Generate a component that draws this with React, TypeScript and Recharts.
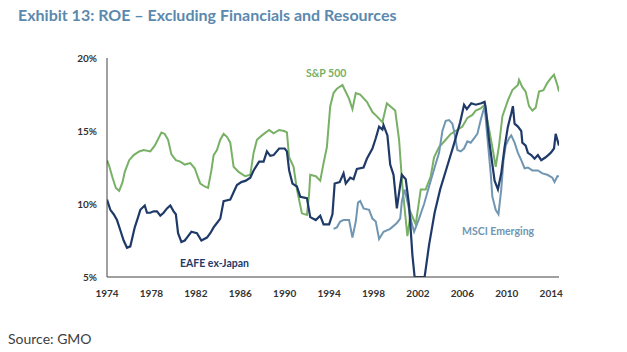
import { LineChart, Line, XAxis, YAxis } from "recharts";

// ROE, % — [year, value]
const SP500: [number, number][] = [
  [1974.0, 13.0], [1974.2, 12.6], [1974.5, 11.8], [1974.8, 11.1], [1975.1, 10.9], [1975.4, 11.5],
  [1975.6, 12.2], [1976.0, 13.0], [1976.4, 13.35], [1976.9, 13.6], [1977.3, 13.7], [1977.9, 13.6],
  [1978.3, 14.0], [1978.9, 14.9], [1979.2, 14.8], [1979.5, 14.4], [1979.8, 13.4], [1980.2, 13.0],
  [1980.6, 12.9], [1981.0, 12.7], [1981.5, 12.8], [1981.9, 12.45], [1982.2, 11.8], [1982.4, 11.4],
  [1982.8, 11.2], [1983.1, 11.1], [1983.4, 12.3], [1983.6, 13.35], [1983.9, 13.7], [1984.2, 14.4],
  [1984.5, 14.8], [1984.8, 14.6], [1985.1, 14.2], [1985.4, 12.55], [1985.85, 12.2], [1986.45, 11.9],
  [1986.9, 12.0], [1987.2, 13.5], [1987.5, 14.4], [1987.95, 14.7], [1988.6, 15.07], [1989.0, 14.84],
  [1989.5, 15.07], [1989.95, 15.0], [1990.2, 14.9], [1990.4, 13.2], [1990.8, 12.55], [1991.1, 11.0],
  [1991.55, 9.36], [1992.0, 9.25], [1992.2, 10.7], [1992.3, 12.0], [1992.8, 11.9], [1993.2, 11.6],
  [1993.5, 12.8], [1993.8, 13.9], [1994.1, 16.7], [1994.4, 17.6], [1994.7, 17.9], [1995.2, 18.15],
  [1995.8, 17.2], [1996.1, 16.5], [1996.4, 17.6], [1996.8, 17.5], [1997.4, 17.0], [1997.9, 16.3],
  [1998.3, 16.0], [1998.8, 15.6], [1999.2, 16.9], [1999.5, 16.7], [1999.95, 16.4], [2000.3, 14.4],
  [2000.6, 11.2], [2001.05, 7.8], [2001.35, 9.4], [2001.8, 8.6], [2002.25, 11.0], [2002.7, 11.0],
  [2003.15, 11.9], [2003.45, 13.2], [2003.9, 13.9], [2004.5, 14.4], [2004.95, 14.8], [2005.55, 15.07],
  [2006.0, 15.3], [2006.45, 15.9], [2006.9, 16.1], [2007.2, 16.4], [2007.65, 16.55], [2008.0, 16.8],
  [2008.25, 15.75], [2008.7, 13.9], [2009.0, 12.55], [2009.3, 14.0], [2009.6, 16.0], [2010.1, 17.1],
  [2010.5, 17.8], [2011.0, 18.15], [2011.1, 18.5], [2011.4, 18.0], [2011.7, 17.7], [2012.0, 16.7],
  [2012.3, 16.4], [2012.6, 16.6], [2012.9, 17.7], [2013.3, 17.8], [2013.65, 18.3], [2013.95, 18.6],
  [2014.25, 18.85], [2014.4, 18.5], [2014.55, 18.15], [2014.7, 17.7],
];

const EAFE_EX_JAPAN: [number, number][] = [
  [1974.0, 10.3], [1974.3, 9.6], [1974.6, 9.3], [1974.9, 8.9], [1975.2, 8.2], [1975.5, 7.5],
  [1975.8, 7.0], [1976.1, 7.1], [1976.5, 8.4], [1976.8, 9.1], [1977.0, 9.6], [1977.4, 9.9],
  [1977.6, 9.4], [1977.9, 9.4], [1978.2, 9.5], [1978.5, 9.5], [1978.8, 9.2], [1979.1, 9.4],
  [1979.4, 9.7], [1979.7, 9.9], [1980.0, 9.5], [1980.2, 9.3], [1980.4, 8.0], [1980.7, 7.4],
  [1981.0, 7.5], [1981.2, 7.7], [1981.6, 8.1], [1982.1, 8.0], [1982.5, 7.5], [1983.0, 7.7],
  [1983.3, 8.0], [1983.6, 8.4], [1983.9, 8.7], [1984.2, 9.0], [1984.5, 10.2], [1985.1, 10.3],
  [1985.4, 10.8], [1985.7, 11.3], [1986.1, 11.5], [1986.5, 11.6], [1986.9, 11.8], [1987.2, 12.3],
  [1987.7, 12.9], [1988.1, 12.9], [1988.4, 13.6], [1988.7, 13.3], [1989.0, 13.35], [1989.5, 13.8],
  [1990.0, 13.8], [1990.2, 13.6], [1990.4, 12.3], [1990.7, 11.4], [1991.1, 11.2], [1991.4, 10.5],
  [1992.0, 10.4], [1992.3, 9.1], [1992.8, 8.9], [1993.2, 9.2], [1993.5, 8.6], [1994.0, 8.6],
  [1994.3, 9.3], [1994.5, 11.4], [1994.95, 11.5], [1995.3, 12.1], [1995.5, 11.4], [1995.9, 11.8],
  [1996.2, 11.7], [1996.5, 12.4], [1997.1, 12.5], [1997.4, 13.1], [1997.9, 13.8], [1998.2, 14.5],
  [1998.5, 15.3], [1998.8, 15.1], [1998.9, 15.4], [1999.25, 14.7], [1999.5, 12.7], [1999.8, 12.0],
  [2000.1, 9.7], [2000.4, 11.3], [2000.55, 12.0], [2000.9, 11.7], [2001.2, 9.9], [2001.5, 6.5],
  [2001.7, 5.0], [2002.6, 5.0], [2003.0, 7.2], [2003.5, 9.4], [2004.0, 11.0], [2004.6, 12.5],
  [2005.2, 14.0], [2005.8, 15.6], [2006.15, 16.8], [2006.4, 16.5], [2006.8, 16.9], [2007.2, 16.8],
  [2007.7, 16.9], [2008.0, 17.0], [2008.1, 16.6], [2008.4, 14.4], [2008.9, 11.6], [2009.2, 11.0],
  [2009.5, 12.1], [2009.8, 13.9], [2010.1, 15.3], [2010.4, 16.2], [2010.55, 16.7], [2010.7, 15.5],
  [2011.0, 15.3], [2011.3, 15.0], [2011.4, 14.2], [2011.7, 14.0], [2011.9, 13.5], [2012.2, 13.35],
  [2012.5, 13.1], [2012.8, 13.35], [2013.1, 13.0], [2013.5, 13.2], [2013.95, 13.5], [2014.25, 13.8],
  [2014.4, 14.8], [2014.55, 14.4], [2014.7, 14.0],
];

const MSCI_EMERGING: [number, number][] = [
  [1994.4, 8.3], [1994.7, 8.4], [1995.0, 8.8], [1995.3, 8.9], [1995.8, 8.9], [1996.1, 7.7],
  [1996.4, 8.8], [1996.6, 10.1], [1996.8, 10.2], [1997.1, 9.7], [1997.6, 9.6], [1997.9, 9.0],
  [1998.2, 8.8], [1998.5, 7.6], [1998.9, 8.1], [1999.5, 8.3], [2000.1, 8.7], [2000.4, 9.0],
  [2000.55, 10.2], [2000.8, 11.0], [2001.1, 10.0], [2001.4, 8.8], [2001.65, 8.1], [2002.1, 9.0],
  [2002.55, 10.0], [2003.0, 11.2], [2003.5, 12.5], [2003.9, 13.5], [2004.2, 15.0], [2004.5, 15.7],
  [2004.8, 15.75], [2005.1, 15.5], [2005.25, 15.0], [2005.55, 13.7], [2005.85, 13.6], [2006.15, 13.8],
  [2006.45, 14.3], [2006.75, 14.2], [2007.05, 14.5], [2007.35, 14.8], [2007.65, 15.75], [2008.0, 16.7],
  [2008.25, 14.6], [2008.55, 12.1], [2008.7, 10.5], [2009.0, 9.6], [2009.25, 9.3], [2009.5, 11.0],
  [2009.7, 13.0], [2009.9, 14.0], [2010.2, 14.5], [2010.4, 14.7], [2010.7, 14.2], [2011.0, 13.5],
  [2011.3, 13.0], [2011.6, 12.45], [2011.9, 12.5], [2012.3, 12.3], [2012.8, 12.3], [2013.2, 12.1],
  [2013.65, 12.0], [2014.1, 11.8], [2014.3, 11.5], [2014.55, 11.9], [2014.7, 11.9],
];

const YEAR_TICKS = [1974, 1978, 1982, 1986, 1990, 1994, 1998, 2002, 2006, 2010, 2014];
const PCT_TICKS = [5, 10, 15, 20];

const GREEN = "#78b065";
const NAVY = "#1f3a68";
const STEEL = "#7096b2";
const FONT = "Lato, 'Open Sans', sans-serif";

const toRows = (pts: [number, number][]) => pts.map(([year, v]) => ({ year, v }));

const tickStyle = { fontSize: 10, fill: "#333", fontWeight: 700, fontFamily: FONT };

export default function App() {
  return (
    <div style={{ position: "absolute", left: 0, top: 0, width: 627, height: 352, background: "#fff", fontFamily: FONT }}>
      <div style={{ position: "absolute", left: 18, top: 5, fontSize: 16, fontWeight: 700, color: "#5b89ae", whiteSpace: "nowrap" }}>
        Exhibit 13: ROE – Excluding Financials and Resources
      </div>

      <LineChart width={627} height={352} margin={{ top: 58, right: 68, bottom: 45, left: 0 }}>
        <XAxis
          type="number" dataKey="year" domain={[1974, 2014.7]} ticks={YEAR_TICKS}
          allowDataOverflow tick={tickStyle} tickLine={false} tickMargin={7}
          axisLine={{ stroke: "#404040", strokeWidth: 1 }}
        />
        <YAxis
          type="number" domain={[5, 20]} ticks={PCT_TICKS} width={107}
          allowDataOverflow tick={tickStyle} tickLine={false} tickMargin={4}
          tickFormatter={(v: number) => `${v}%`}
          axisLine={{ stroke: "#404040", strokeWidth: 1 }}
        />
        <Line data={toRows(SP500)} dataKey="v" stroke={GREEN} strokeWidth={2} dot={false} isAnimationActive={false} />
        <Line data={toRows(MSCI_EMERGING)} dataKey="v" stroke={STEEL} strokeWidth={2} dot={false} isAnimationActive={false} />
        <Line data={toRows(EAFE_EX_JAPAN)} dataKey="v" stroke={NAVY} strokeWidth={2.2} dot={false} isAnimationActive={false} />
      </LineChart>

      <div style={{ position: "absolute", left: 306, top: 67, fontSize: 10.5, fontWeight: 700, color: GREEN }}>S&amp;P 500</div>
      <div style={{ position: "absolute", left: 180, top: 257, fontSize: 10.5, fontWeight: 700, color: NAVY }}>EAFE ex-Japan</div>
      <div style={{ position: "absolute", left: 462, top: 225, fontSize: 10.5, fontWeight: 700, color: STEEL }}>MSCI Emerging</div>

      <div style={{ position: "absolute", left: 8, top: 330, fontSize: 14, color: "#404040" }}>Source: GMO</div>
    </div>
  );
}
